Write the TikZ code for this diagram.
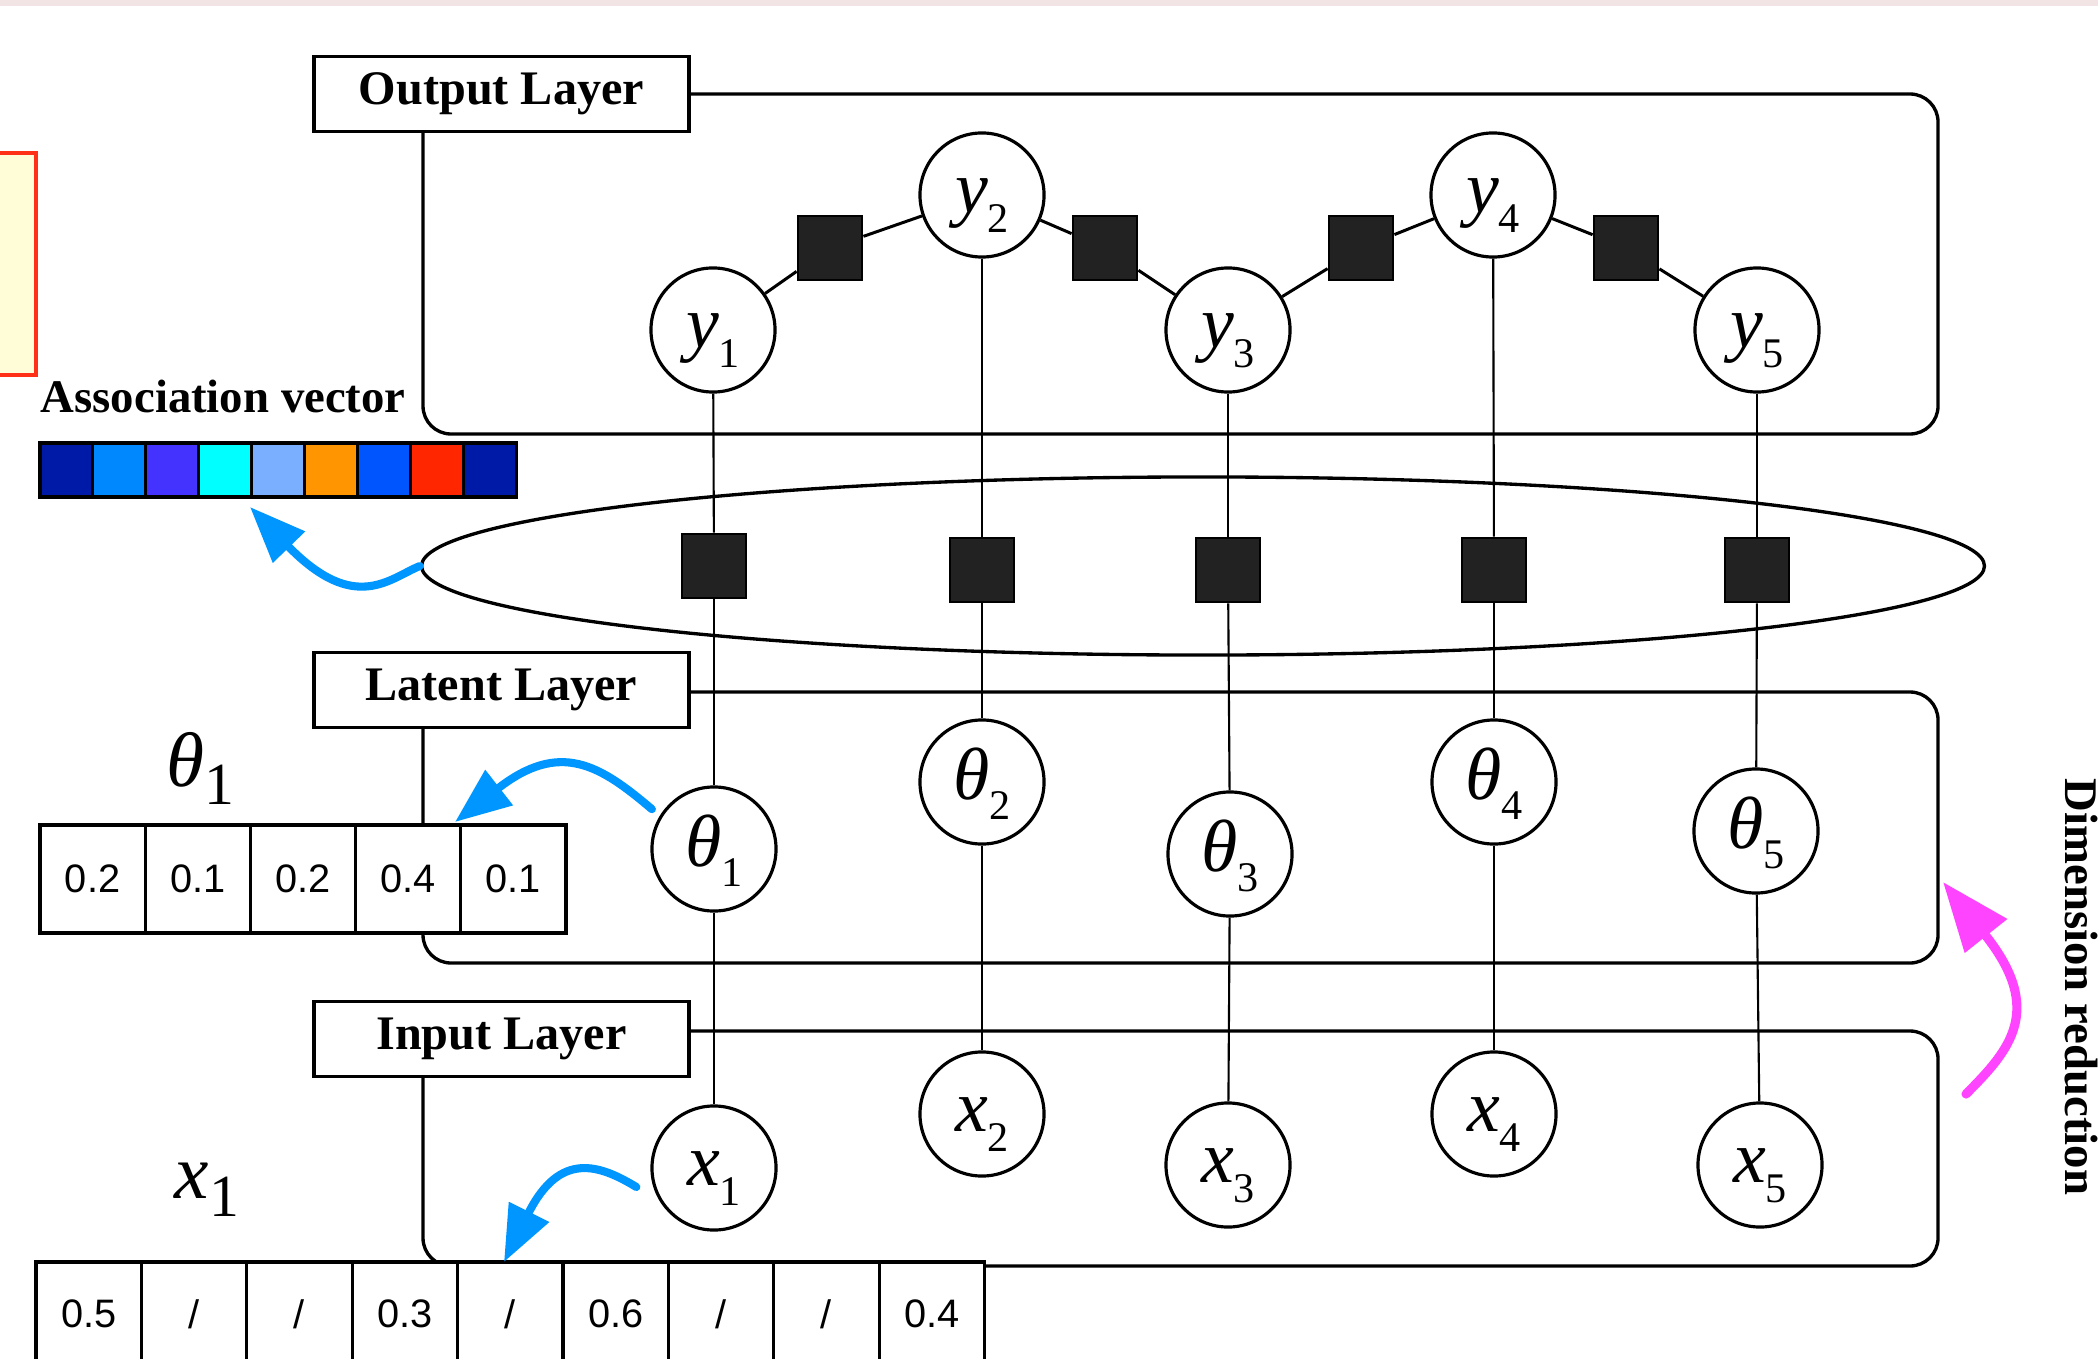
\documentclass[tikz,border=0pt]{standalone}
\usepackage{fontspec}
\setmainfont{Liberation Serif}
\newfontfamily\numfont{Liberation Sans}
\usetikzlibrary{arrows.meta,shapes.geometric,calc}

\definecolor{flowblue}{HTML}{0096FF}
\definecolor{dimpink}{HTML}{FF44FF}
\definecolor{factorgray}{HTML}{222222}
\definecolor{topband}{HTML}{F2E4E4}
\definecolor{notered}{HTML}{FF3018}
\definecolor{noteyellow}{HTML}{FFFDD8}
\definecolor{avA}{HTML}{001AA8}
\definecolor{avB}{HTML}{0088FF}
\definecolor{avC}{HTML}{4433FF}
\definecolor{avD}{HTML}{00FFFF}
\definecolor{avE}{HTML}{7AAEFF}
\definecolor{avF}{HTML}{FF9500}
\definecolor{avG}{HTML}{0055FF}
\definecolor{avH}{HTML}{FF2600}

% variable label with a subscript, as set inside the circles
\newcommand\varlab[2]{\fontsize{21}{21}\selectfont\textit{#1}\raisebox{-5.5pt}{\fontsize{12}{12}\selectfont #2}}
% larger label above the vectors
\newcommand\veclab[2]{\fontsize{22}{22}\selectfont\textit{#1}\raisebox{-5.3pt}{\fontsize{17}{17}\selectfont #2}}
\newcommand\cellfont{\numfont\fontsize{11.3}{13}\selectfont}
\newcommand\tagfont{\fontsize{13.7}{16}\selectfont\bfseries}

\begin{document}
\begin{tikzpicture}[x=0.01cm, y=-0.01cm,
  layerpanel/.style={draw, line width=0.95pt, rounded corners=0.28cm},
  layertag/.style={draw, fill=white, line width=0.95pt, minimum width=3.75cm,
    minimum height=0.75cm, inner sep=0pt, font=\tagfont},
  var/.style={circle, draw, fill=white, line width=0.9pt, minimum size=1.24cm,
    inner sep=0pt, text height=15pt, text depth=4.8pt},
  factor/.style={rectangle, draw=black, fill=factorgray, line width=0.8pt,
    minimum size=0.64cm, inner sep=0pt},
  chainlink/.style={line width=0.85pt},
  columnlink/.style={line width=0.6pt},
  cell/.style={draw, fill=white, line width=0.9pt, minimum width=1.052cm,
    minimum height=1.08cm, inner sep=0pt, font=\cellfont},
  swatch/.style={draw, line width=0.9pt, minimum width=0.529cm,
    minimum height=0.54cm, inner sep=0pt},
  pointer/.style={flowblue, line width=2.3pt, line cap=round,
    -{Triangle[length=0.56cm,width=0.43cm]}},
]
\useasboundingbox (0,0) rectangle (2098,1358);

% thin band along the top edge
\fill[topband] (0,0) rectangle (2098,6);

% note box at the left edge
\draw[notered, fill=noteyellow, line width=1.1pt] (-20,153) rectangle (36,375);

% layer panels
\draw[layerpanel] (423,94) rectangle (1938,434);
\draw[layerpanel] (423,692) rectangle (1938,963);
\draw[layerpanel] (423,1031) rectangle (1938,1266);

% layer tags
\node[layertag] (outtag) at (501.5,94) {Output Layer};
\node[layertag] (lattag) at (501.5,690) {Latent Layer};
\node[layertag] (intag) at (501.5,1039) {Input Layer};

% association ellipse
\node[ellipse, draw, line width=0.95pt, minimum width=15.62cm,
  minimum height=1.78cm, inner sep=0pt] (assoc) at (1203,566) {};

% output variables
\node[var] (y1) at (713,330) {\varlab{y}{1}};
\node[var] (y2) at (982,195) {\varlab{y}{2}};
\node[var] (y3) at (1228,330) {\varlab{y}{3}};
\node[var] (y4) at (1493,195) {\varlab{y}{4}};
\node[var] (y5) at (1757,330) {\varlab{y}{5}};

% pairwise factors between outputs
\node[factor] (f1) at (830,248) {};
\node[factor] (f2) at (1105,248) {};
\node[factor] (f3) at (1361,248) {};
\node[factor] (f4) at (1626,248) {};

% association factors
\node[factor] (m1) at (714,566) {};
\node[factor] (m2) at (982,570) {};
\node[factor] (m3) at (1228,570) {};
\node[factor] (m4) at (1494,570) {};
\node[factor] (m5) at (1757,570) {};

% latent variables
\node[var] (t1) at (714,849) {\varlab{θ}{1}};
\node[var] (t2) at (982,782) {\varlab{θ}{2}};
\node[var] (t3) at (1230,854) {\varlab{θ}{3}};
\node[var] (t4) at (1494,782) {\varlab{θ}{4}};
\node[var] (t5) at (1756,831) {\varlab{θ}{5}};

% input variables
\node[var] (x1) at (714,1168) {\varlab{x}{1}};
\node[var] (x2) at (982,1114) {\varlab{x}{2}};
\node[var] (x3) at (1228,1165) {\varlab{x}{3}};
\node[var] (x4) at (1494,1114) {\varlab{x}{4}};
\node[var] (x5) at (1760,1165) {\varlab{x}{5}};

% chain over the outputs
\draw[chainlink] (y1) -- (f1) -- (y2) -- (f2) -- (y3) -- (f3) -- (y4) -- (f4) -- (y5);

% columns: output -- factor -- latent -- input
\foreach \k in {1,...,5} {
  \draw[columnlink] (y\k) -- (m\k);
  \draw[columnlink] (m\k) -- (t\k);
  \draw[columnlink] (t\k) -- (x\k);
}

% association vector
\node[anchor=base west, inner sep=0pt, font=\fontsize{13.3}{16}\selectfont\bfseries] (avlabel) at (40,412) {Association vector};
\foreach \c [count=\i from 0] in {avA,avB,avC,avD,avE,avF,avG,avH,avA}
  \node[swatch, fill=\c] (av\i) at ({66.45+52.9*\i},470) {};

% latent vector of the first item
\node[anchor=base] (thlabel) at (200,786) {\veclab{θ}{1}};
\foreach \v [count=\i from 0] in {0.2,0.1,0.2,0.4,0.1}
  \node[cell] (th\i) at ({92.6+105.2*\i},879) {\v};

% input vector of the first item
\node[anchor=base] (xlabel) at (207,1198) {\veclab{x}{1}};
\foreach \v [count=\i from 0] in {0.5,/,/,0.3,/,0.6,/,/,0.4}
  \node[cell, minimum width=1.054cm, minimum height=1.04cm] (xv\i) at ({88.7+105.4*\i},1314) {\v};

% pointers from the graph to the vectors
\coordinate (avtip) at (250,507);
\coordinate (thtip) at (455,822);
\coordinate (xtip) at (504,1262);
\draw[pointer] (assoc.west) .. controls (390,578) and (355,615) .. (avtip);
\draw[pointer] ($(t1.150)+(-7,-8)$) .. controls (600,765) and (560,740) .. (thtip);
\draw[pointer] ($(x1.west)+(-14,19)$) .. controls (600,1165) and (560,1150) .. (xtip);

% dimension reduction
\coordinate (drstart) at (1966,1094);
\coordinate (drtip) at (1943,882);
\draw[dimpink, line width=2.6pt, line cap=round,
  -{Triangle[length=0.69cm,width=0.52cm]}]
  (drstart) .. controls (2010,1050) and (2045,1010) .. (drtip);
\node[rotate=-90, font=\fontsize{13.3}{16}\selectfont\bfseries] (drlabel) at (2081,987) {Dimension reduction};
\end{tikzpicture}
\end{document}
